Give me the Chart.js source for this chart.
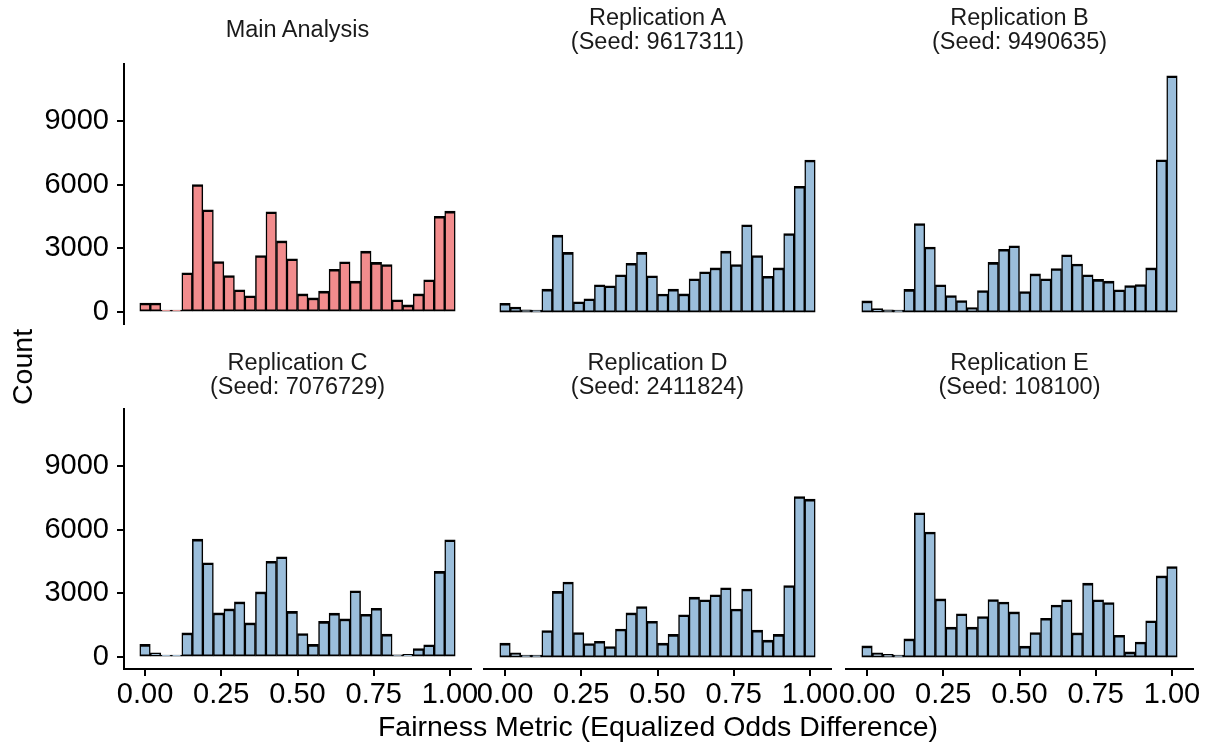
<!DOCTYPE html>
<html>
<head>
<meta charset="utf-8">
<script src="https://cdn.jsdelivr.net/npm/chart.js@4.4.1/dist/chart.umd.min.js"></script>
<style>
  html, body { margin: 0; padding: 0; background: #fff; }
  #page { position: relative; width: 1208px; height: 746px; overflow: hidden;
          font-family: "Liberation Sans", Arial, sans-serif; }
  #page canvas { position: absolute; }
  .strip { position: absolute; width: 347px; height: 48px; display: flex; flex-direction: column;
           justify-content: center; align-items: center; font-size: 23.5px; line-height: 24px; color: #1a1a1a; }
  .axis-title { position: absolute; font-size: 28.5px; line-height: 32px; color: #000; white-space: nowrap; }
</style>
</head>
<body>
<div id="page"></div>
<script>
// bin centres of the 30-bin histograms
const binCenters = [0, 0.0345, 0.0690, 0.1034, 0.1379, 0.1724, 0.2069, 0.2414, 0.2759, 0.3103,
                    0.3448, 0.3793, 0.4138, 0.4483, 0.4828, 0.5172, 0.5517, 0.5862, 0.6207, 0.6552,
                    0.6897, 0.7241, 0.7586, 0.7931, 0.8276, 0.8621, 0.8966, 0.9310, 0.9655, 1];

const mainCounts = [430, 430, 10, 30, 1850, 6000, 4810, 2380, 1720, 1050, 770, 2660, 4720, 3350, 2510,
                    860, 670, 990, 2020, 2370, 1460, 2870, 2340, 2240, 580, 340, 860, 1520, 4510, 4750];
const repA = [420, 240, 110, 10, 1080, 3620, 2810, 490, 630, 1290, 1240, 1760, 2300, 2810, 1710,
              850, 1080, 860, 1570, 1900, 2080, 2870, 2240, 4110, 2660, 1690, 2080, 3700, 5920, 7150];
const repB = [530, 170, 110, 10, 1070, 4170, 3060, 1290, 780, 550, 220, 1020, 2340, 2960, 3120,
              970, 1800, 1570, 2050, 2700, 2260, 1760, 1540, 1460, 1050, 1250, 1300, 2080, 7160, 11110];
const repC = [600, 200, 10, 10, 1140, 5550, 4440, 2080, 2270, 2600, 1610, 3070, 4510, 4720, 2150,
              1110, 600, 1680, 2070, 1800, 3120, 2020, 2300, 1080, 110, 130, 410, 580, 4030, 5520];
const repD = [660, 200, 10, 30, 1250, 3090, 3530, 1160, 640, 750, 500, 1320, 2080, 2380, 1690,
              660, 1070, 1990, 2820, 2700, 2930, 3260, 2260, 3200, 1270, 800, 1070, 3370, 7550, 7430];
const repE = [530, 200, 130, 10, 860, 6790, 5880, 2740, 1410, 2040, 1410, 1910, 2710, 2590, 2130,
              520, 1160, 1830, 2450, 2700, 1140, 3480, 2700, 2570, 1030, 250, 710, 1710, 3820, 4260];

const xTickValues = [0, 0.25, 0.5, 0.75, 1];
const yTickValues = [0, 3000, 6000, 9000];

const panels = [
  { title: ['Main Analysis'], counts: mainCounts, fill: '#F28C8D' },
  { title: ['Replication A', '(Seed: 9617311)'], counts: repA, fill: '#9BBEDB' },
  { title: ['Replication B', '(Seed: 9490635)'], counts: repB, fill: '#9BBEDB' },
  { title: ['Replication C', '(Seed: 7076729)'], counts: repC, fill: '#9BBEDB' },
  { title: ['Replication D', '(Seed: 2411824)'], counts: repD, fill: '#9BBEDB' },
  { title: ['Replication E', '(Seed: 108100)'], counts: repE, fill: '#9BBEDB' }
];

// layout of the facet grid
const colLeft = [124, 484, 846];
const rowTop = [64, 409];
const stripMid = [29, 374];
const panelW = 347, panelH = 260;
const padL = 90, padR = 40, padT = 40, padB = 60;
const yAxisW = 84, xAxisH = 50;
const fontFamily = '"Liberation Sans", Arial, sans-serif';

// ggplot-style expansion of the scales
const binW = binCenters[1] - binCenters[0];
const xLo = binCenters[0] - binW / 2, xHi = binCenters[binCenters.length - 1] + binW / 2;
const xMin = xLo - 0.05 * (xHi - xLo), xMax = xHi + 0.05 * (xHi - xLo);
const maxCount = Math.max(...panels.flatMap(p => p.counts));
const yMin = -0.05 * maxCount, yMax = 1.05 * maxCount;

const page = document.getElementById('page');

panels.forEach((p, i) => {
  const col = i % 3, row = Math.floor(i / 3);
  const showY = col === 0, showX = row === 1;

  const canvas = document.createElement('canvas');
  canvas.width = padL + panelW + padR;
  canvas.height = padT + panelH + padB;
  canvas.style.left = (colLeft[col] - padL) + 'px';
  canvas.style.top = (rowTop[row] - padT) + 'px';
  page.appendChild(canvas);

  const strip = document.createElement('div');
  strip.className = 'strip';
  strip.style.left = colLeft[col] + 'px';
  strip.style.top = (stripMid[row] - 24) + 'px';
  p.title.forEach(line => {
    const d = document.createElement('div');
    d.textContent = line;
    strip.appendChild(d);
  });
  page.appendChild(strip);

  new Chart(canvas.getContext('2d'), {
    type: 'bar',
    data: {
      datasets: [{
        data: binCenters.map((x, k) => ({ x: x, y: p.counts[k] })),
        backgroundColor: p.fill,
        borderColor: '#000',
        borderWidth: { top: 2.6, bottom: 2, left: 1.5, right: 1.5 },
        borderSkipped: false,
        barPercentage: 1,
        categoryPercentage: 1,
        minBarLength: 2
      }]
    },
    options: {
      responsive: false,
      animation: false,
      events: [],
      layout: {
        padding: {
          left: padL - (showY ? yAxisW : 0),
          right: padR,
          top: padT,
          bottom: padB - (showX ? xAxisH : 0)
        }
      },
      plugins: { legend: { display: false }, tooltip: { enabled: false } },
      scales: {
        x: {
          type: 'linear',
          min: xMin,
          max: xMax,
          offset: false,
          display: showX,
          afterBuildTicks: s => { s.ticks = xTickValues.map(v => ({ value: v })); },
          afterFit: s => { s.height = showX ? xAxisH : 0; },
          border: { display: true, color: '#000', width: 2 },
          grid: { offset: false, drawOnChartArea: false, drawTicks: true, tickLength: 7, color: '#000', lineWidth: 2 },
          ticks: {
            color: '#000', font: { family: fontFamily, size: 29 }, padding: 2,
            maxRotation: 0, autoSkip: false,
            callback: v => Number(v).toFixed(2)
          }
        },
        y: {
          min: yMin,
          max: yMax,
          display: showY,
          afterBuildTicks: s => { s.ticks = yTickValues.map(v => ({ value: v })); },
          afterFit: s => { s.width = showY ? yAxisW : 0; },
          border: { display: true, color: '#000', width: 2 },
          grid: { drawOnChartArea: false, drawTicks: true, tickLength: 7, color: '#000', lineWidth: 2 },
          ticks: {
            color: '#000', font: { family: fontFamily, size: 29 }, padding: 8,
            callback: v => String(v)
          }
        }
      }
    }
  });
});

// shared axis titles
const yTitle = document.createElement('div');
yTitle.className = 'axis-title';
yTitle.textContent = 'Count';
yTitle.style.left = '22px';
yTitle.style.top = '367px';
yTitle.style.transform = 'translate(-50%, -50%) rotate(-90deg)';
page.appendChild(yTitle);

const xTitle = document.createElement('div');
xTitle.className = 'axis-title';
xTitle.textContent = 'Fairness Metric (Equalized Odds Difference)';
xTitle.style.left = '658px';
xTitle.style.top = '710px';
xTitle.style.transform = 'translateX(-50%)';
page.appendChild(xTitle);
</script>
</body>
</html>
